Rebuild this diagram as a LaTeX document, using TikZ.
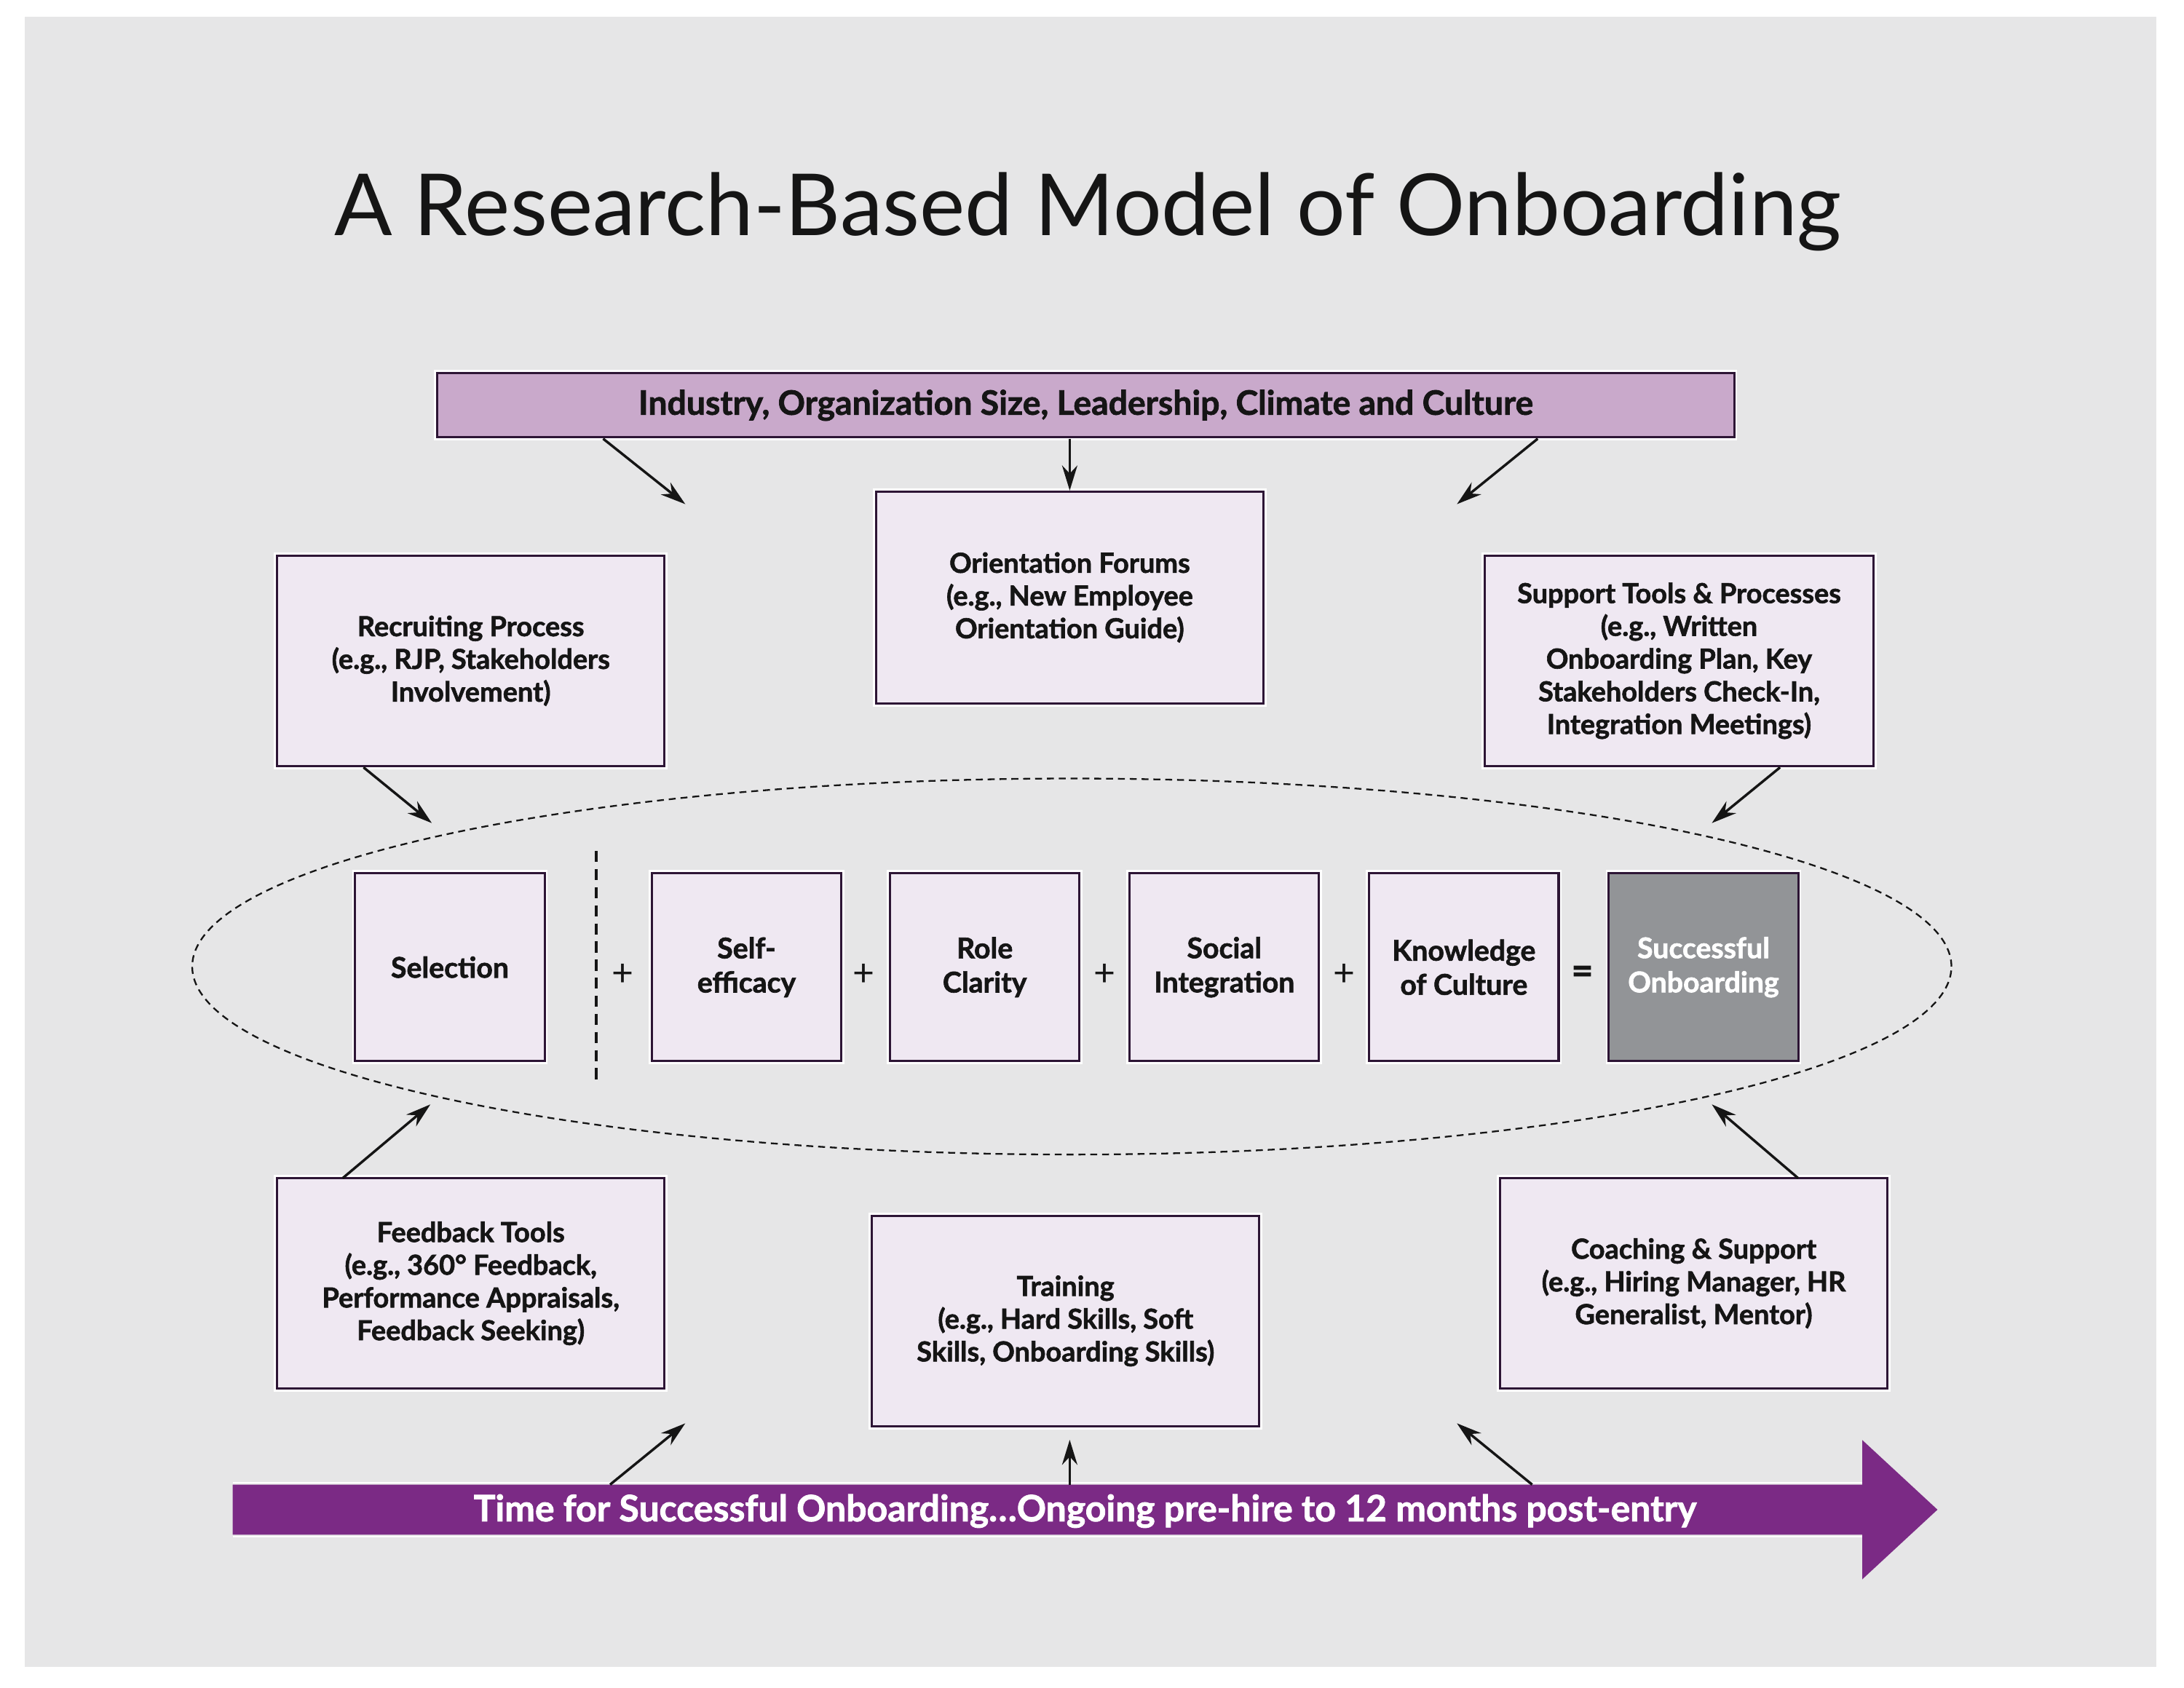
\documentclass[tikz,border=0pt]{standalone}
\usepackage{fontspec}
\setmainfont{Lato}
\newfontfamily\heavyfont{Lato}[UprightFont={* Bold}, UprightFeatures={FakeBold=1.6}]
\usetikzlibrary{arrows.meta,shapes.geometric}
\definecolor{bggray}{HTML}{E6E6E7}
\definecolor{barlav}{HTML}{C9A9CB}
\definecolor{boxfill}{HTML}{EFE8F2}
\definecolor{boxline}{HTML}{2D1535}
\definecolor{resgray}{HTML}{929497}
\definecolor{timepurple}{HTML}{7B2A85}
\definecolor{inkblack}{HTML}{151515}
\begin{document}
\begin{tikzpicture}[x=1pt,y=-1pt,
  box/.style={draw=boxline, line width=1.6pt, fill=boxfill,
    preaction={draw=white, line width=4.5pt},
    align=center, text=inkblack, inner sep=0pt,
    font=\heavyfont\fontsize{19.8}{23.5}\selectfont},
  bigbox/.style={box, minimum width=278, minimum height=151},
  smallbox/.style={box, minimum width=136, minimum height=135, font=\heavyfont\fontsize{20.5}{24.5}\selectfont},
  arr/.style={-{Stealth[length=18pt,width=11pt]}, line width=1.8pt, draw=inkblack},
  opsign/.style={font=\fontsize{27}{27}\selectfont, text=inkblack, inner sep=0pt}
]
\useasboundingbox (0,0) rectangle (1568,1212);
\fill[white] (0,0) rectangle (1568,1212);
\fill[bggray] (18,12) rectangle (1548,1197);

% title
\node[anchor=base, font=\fontsize{61.5}{72}\selectfont, text=inkblack] (title) at (781,169) {A Research-Based Model of Onboarding};

% top bar
\node[box, fill=barlav, minimum width=931, minimum height=46, font=\heavyfont\fontsize{24.2}{26}\selectfont] (topbar) at (779.5,291) {Industry, Organization Size, Leadership, Climate and Culture};

% upper boxes
\node[bigbox] (recruit) at (338,474.5) {Recruiting Process\\(e.g., RJP, Stakeholders\\Involvement)};
\node[bigbox, minimum height=152] (orient) at (768,429) {Orientation Forums\\(e.g., New Employee\\Orientation Guide)};
\node[bigbox, minimum width=279] (support) at (1205.5,474.5) {Support Tools \& Processes\\(e.g., Written\\Onboarding Plan, Key\\Stakeholders Check-In,\\Integration Meetings)};

% ellipse
\node[ellipse, draw=inkblack, line width=1.2pt, dash pattern=on 5pt off 3.5pt, minimum width=1263, minimum height=270, inner sep=0pt] (oval) at (769.5,694) {};

% middle boxes
\node[smallbox] (sel) at (323,694.5) {Selection};
\node[smallbox] (self) at (536,694.5) {Self-\\efficacy};
\node[smallbox] (role) at (707,694.5) {Role\\Clarity};
\node[smallbox] (social) at (879,694.5) {Social\\Integration};
\node[smallbox] (know) at (1051,694.5) {Knowledge\\of Culture};
\node[smallbox, fill=resgray, text=white] (succ) at (1223,694.5) {Successful\\Onboarding};

\coordinate (divtop) at (428,611);
\coordinate (divbot) at (428,777);
\draw[inkblack, line width=1.8pt, dash pattern=on 8pt off 5pt] (divtop) -- (divbot);

\node[opsign] (p1) at (447,700) {+};
\node[opsign] (p2) at (620,700) {+};
\node[opsign] (p3) at (793,700) {+};
\node[opsign] (p4) at (965,700) {+};
\node[opsign, font=\heavyfont\fontsize{27}{27}\selectfont] (eq) at (1136,700) {=};

% lower boxes
\node[bigbox] (feedback) at (338,921.5) {Feedback Tools\\(e.g., 360° Feedback,\\Performance Appraisals,\\Feedback Seeking)};
\node[bigbox] (training) at (765,948.5) {Training\\(e.g., Hard Skills, Soft\\Skills, Onboarding Skills)};
\node[bigbox] (coach) at (1216,921.5) {Coaching \& Support\\(e.g., Hiring Manager, HR\\Generalist, Mentor)};

% time arrow
\fill[timepurple] (167,1066) -- (1337,1066) -- (1337,1034) -- (1391,1084) -- (1337,1134) -- (1337,1102) -- (167,1102) -- cycle;
\draw[white, line width=1pt] (167,1064.5) -- (1337,1064.5);
\draw[white, line width=1pt] (167,1103.5) -- (1337,1103.5);
\node[font=\heavyfont\fontsize{26.1}{28}\selectfont, text=white] (timetext) at (779,1085) {Time for Successful Onboarding\ldots Ongoing pre-hire to 12 months post-entry};

% arrow coordinates
\coordinate (a1s) at (433,315);   \coordinate (a1e) at (492,362);
\coordinate (a2s) at (768,315);
\coordinate (a3s) at (1104,315);  \coordinate (a3e) at (1046,362);
\coordinate (b1s) at (261,551);   \coordinate (b1e) at (310,591);
\coordinate (b2s) at (1278,551);  \coordinate (b2e) at (1229,591);
\coordinate (c1s) at (246,846);   \coordinate (c1e) at (309,793);
\coordinate (c2s) at (1291,846);  \coordinate (c2e) at (1229,793);
\coordinate (d1s) at (438,1066);  \coordinate (d1e) at (492,1022);
\coordinate (d2s) at (768,1066);
\coordinate (d3s) at (1100,1066); \coordinate (d3e) at (1046,1022);

\draw[arr] (a1s) -- (a1e);
\draw[arr] (a2s) -- (a2s |- orient.north);
\draw[arr] (a3s) -- (a3e);
\draw[arr] (b1s) -- (b1e);
\draw[arr] (b2s) -- (b2e);
\draw[arr] (c1s) -- (c1e);
\draw[arr] (c2s) -- (c2e);
\draw[arr] (d1s) -- (d1e);
\draw[arr] (d2s) -- ([yshift=-9pt]d2s |- training.south);
\draw[arr] (d3s) -- (d3e);
\end{tikzpicture}
\end{document}
